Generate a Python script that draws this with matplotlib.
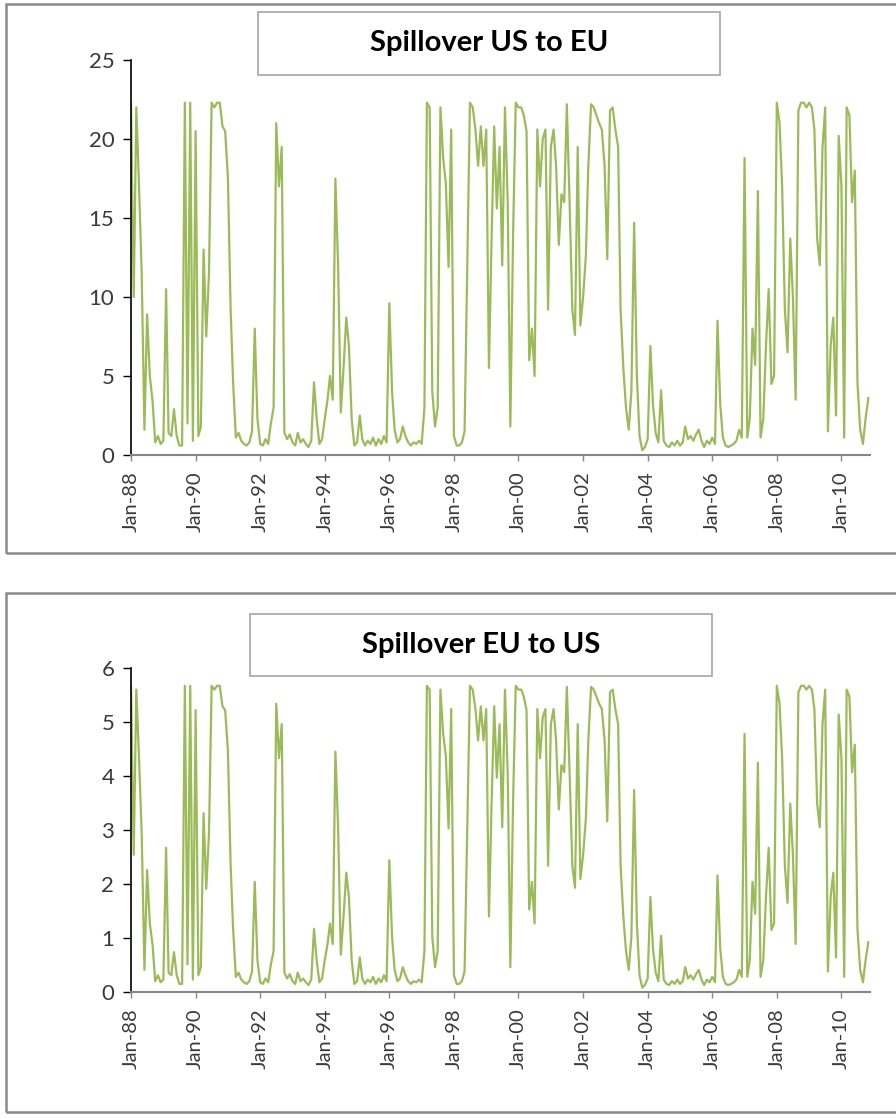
import matplotlib
matplotlib.use("Agg")
import matplotlib.pyplot as plt
import matplotlib.dates as mdates
from matplotlib.patches import Rectangle
import pandas as pd

# ── data: monthly spillover index, Jan-88 .. Nov-10 ───────
us_to_eu = [
    22.3, 10.0, 22.0, 17.0, 11.5, 1.6, 8.9, 5.0, 3.4, 0.8, 1.2, 0.7,      # 1988
    0.9, 10.5, 1.4, 1.2, 2.9, 1.2, 0.6, 0.6, 22.3, 2.0, 22.3, 0.9,        # 1989
    20.5, 1.2, 1.8, 13.0, 7.5, 11.5, 22.3, 22.0, 22.3, 22.3, 20.8, 20.5,  # 1990
    17.6, 9.2, 4.6, 1.1, 1.4, 0.9, 0.7, 0.6, 0.8, 1.5, 8.0, 2.3,          # 1991
    0.7, 0.6, 1.0, 0.7, 2.0, 3.0, 21.0, 17.0, 19.5, 1.4, 1.0, 1.3,        # 1992
    0.8, 0.6, 1.4, 0.8, 1.0, 0.7, 0.5, 0.9, 4.6, 2.3, 0.7, 1.0,           # 1993
    2.3, 3.5, 5.0, 3.5, 17.5, 11.9, 2.7, 5.5, 8.7, 6.9, 2.3, 0.6,         # 1994
    0.8, 2.5, 1.0, 0.6, 0.9, 0.7, 1.1, 0.6, 1.0, 0.7, 1.2, 0.8,           # 1995
    9.6, 4.0, 1.6, 0.8, 1.0, 1.8, 1.2, 0.8, 0.6, 0.8, 0.7, 0.9,           # 1996
    0.7, 3.0, 22.3, 22.0, 4.0, 1.8, 3.0, 22.0, 18.8, 17.2, 11.9, 20.6,    # 1997
    1.2, 0.6, 0.6, 0.8, 1.5, 12.0, 22.3, 22.0, 20.6, 18.3, 20.8, 18.3,    # 1998
    20.6, 5.5, 13.3, 20.8, 15.6, 19.5, 12.0, 22.0, 16.0, 1.8, 14.0, 22.3, # 1999
    22.0, 22.0, 21.5, 20.5, 6.0, 8.0, 5.0, 20.6, 17.0, 20.0, 20.6, 9.2,   # 2000
    19.5, 20.6, 18.3, 13.3, 16.5, 16.0, 22.2, 16.0, 9.2, 7.6, 19.5, 8.2,  # 2001
    10.0, 12.6, 18.3, 22.2, 22.0, 21.5, 21.0, 20.6, 18.3, 12.4, 21.8, 22.0,  # 2002
    20.6, 19.5, 9.2, 5.5, 3.0, 1.6, 4.0, 14.7, 5.0, 1.2, 0.3, 0.5,        # 2003
    1.0, 6.9, 3.2, 1.4, 0.8, 4.1, 0.9, 0.6, 0.5, 0.8, 0.6, 0.9,           # 2004
    0.6, 0.8, 1.8, 1.0, 1.2, 0.9, 1.3, 1.6, 0.9, 0.5, 0.9, 0.7,           # 2005
    1.1, 0.7, 8.5, 3.2, 1.1, 0.6, 0.5, 0.6, 0.7, 0.9, 1.6, 1.1,           # 2006
    18.8, 1.1, 2.3, 8.0, 5.7, 16.7, 1.1, 2.3, 7.0, 10.5, 4.5, 5.0,        # 2007
    22.3, 21.0, 17.0, 9.2, 6.5, 13.7, 10.0, 3.5, 21.8, 22.3, 22.3, 22.0,  # 2008
    22.3, 22.0, 20.6, 13.7, 12.0, 19.5, 22.0, 1.5, 6.9, 8.7, 2.5, 20.2,   # 2009
    17.0, 1.1, 22.0, 21.5, 16.0, 18.0, 4.6, 1.6, 0.7, 2.3, 3.6,           # 2010
]

eu_to_us = [
    5.67, 2.54, 5.60, 4.33, 2.93, 0.41, 2.26, 1.27, 0.87, 0.20, 0.31, 0.18,
    0.23, 2.67, 0.36, 0.31, 0.74, 0.31, 0.15, 0.15, 5.67, 0.51, 5.67, 0.23,
    5.22, 0.31, 0.46, 3.31, 1.91, 2.93, 5.67, 5.60, 5.67, 5.67, 5.29, 5.22,
    4.48, 2.34, 1.17, 0.28, 0.36, 0.23, 0.18, 0.15, 0.20, 0.38, 2.04, 0.59,
    0.18, 0.15, 0.25, 0.18, 0.51, 0.76, 5.34, 4.33, 4.96, 0.36, 0.25, 0.33,
    0.20, 0.15, 0.36, 0.20, 0.25, 0.18, 0.13, 0.23, 1.17, 0.59, 0.18, 0.25,
    0.59, 0.89, 1.27, 0.89, 4.45, 3.03, 0.69, 1.40, 2.21, 1.76, 0.59, 0.15,
    0.20, 0.64, 0.25, 0.15, 0.23, 0.18, 0.28, 0.15, 0.25, 0.18, 0.31, 0.20,
    2.44, 1.02, 0.41, 0.20, 0.25, 0.46, 0.31, 0.20, 0.15, 0.20, 0.18, 0.23,
    0.18, 0.76, 5.67, 5.60, 1.02, 0.46, 0.76, 5.60, 4.78, 4.38, 3.03, 5.24,
    0.31, 0.15, 0.15, 0.20, 0.38, 3.05, 5.67, 5.60, 5.24, 4.66, 5.29, 4.66,
    5.24, 1.40, 3.38, 5.29, 3.97, 4.96, 3.05, 5.60, 4.07, 0.46, 3.56, 5.67,
    5.60, 5.60, 5.47, 5.22, 1.53, 2.04, 1.27, 5.24, 4.33, 5.09, 5.24, 2.34,
    4.96, 5.24, 4.66, 3.38, 4.20, 4.07, 5.65, 4.07, 2.34, 1.93, 4.96, 2.09,
    2.54, 3.21, 4.66, 5.65, 5.60, 5.47, 5.34, 5.24, 4.66, 3.16, 5.55, 5.60,
    5.24, 4.96, 2.34, 1.40, 0.76, 0.41, 1.02, 3.74, 1.27, 0.31, 0.08, 0.13,
    0.25, 1.76, 0.81, 0.36, 0.20, 1.04, 0.23, 0.15, 0.13, 0.20, 0.15, 0.23,
    0.15, 0.20, 0.46, 0.25, 0.31, 0.23, 0.33, 0.41, 0.23, 0.13, 0.23, 0.18,
    0.28, 0.18, 2.16, 0.81, 0.28, 0.15, 0.13, 0.15, 0.18, 0.23, 0.41, 0.28,
    4.78, 0.28, 0.59, 2.04, 1.45, 4.25, 0.28, 0.59, 1.78, 2.67, 1.15, 1.27,
    5.67, 5.34, 4.33, 2.34, 1.65, 3.49, 2.54, 0.89, 5.55, 5.67, 5.67, 5.60,
    5.67, 5.60, 5.24, 3.49, 3.05, 4.96, 5.60, 0.38, 1.76, 2.21, 0.64, 5.14,
    4.33, 0.28, 5.60, 5.47, 4.07, 4.58, 1.17, 0.41, 0.18, 0.59, 0.92,
]

dates = pd.date_range("1988-01-01", periods=len(us_to_eu), freq="MS")

titles = ["Spillover US to EU", "Spillover EU to US"]
y_ticks = [[0, 5, 10, 15, 20, 25], [0, 1, 2, 3, 4, 5, 6]]

# ── style ─────────────────────────────────────────────────
LINE_COLOR  = "#9bbb59"
FRAME_COLOR = "#8a8a8a"
TEXT_COLOR  = "#3a3a3a"
plt.rcParams["font.family"] = ["Lato", "DejaVu Sans"]

W, H = 896, 1119
fig = plt.figure(figsize=(W / 100, H / 100), dpi=100)
fig.patch.set_facecolor("white")

def fx(px):  return px / W
def fy(py):  return 1 - py / H

# panel layout in pixels: frame (top, bottom), title box (x0, x1, y0, y1), axes (top, bottom)
panels = [
    dict(frame=(4, 553),    tbox=(258, 720, 12, 75),   ax=(60, 455)),
    dict(frame=(593, 1112), tbox=(250, 712, 614, 676), ax=(668, 992)),
]
AX_LEFT, AX_RIGHT = 131, 870

for i, (series, p) in enumerate(zip([us_to_eu, eu_to_us], panels)):
    # outer chart frame (runs off the right edge)
    ft, fb = p["frame"]
    fig.add_artist(Rectangle((fx(6), fy(fb)), 1.2, fy(ft) - fy(fb),
                             transform=fig.transFigure, fill=False,
                             edgecolor=FRAME_COLOR, linewidth=1.8, zorder=0.5))

    at, ab = p["ax"]
    ax = fig.add_axes([fx(AX_LEFT), fy(ab), fx(AX_RIGHT) - fx(AX_LEFT), fy(at) - fy(ab)])
    ax.plot(dates, series, color=LINE_COLOR, linewidth=1.6)

    ticks = y_ticks[i]
    ax.set_ylim(ticks[0], ticks[-1])
    ax.set_yticks(ticks)
    ax.set_xlim(dates[0], pd.Timestamp("2010-11-20"))
    ax.xaxis.set_major_locator(mdates.YearLocator(2, month=1, day=1))
    ax.xaxis.set_major_formatter(mdates.DateFormatter("%b-%y"))

    for s in ["top", "right"]:
        ax.spines[s].set_visible(False)
    ax.spines["left"].set_color("black")
    ax.spines["left"].set_linewidth(1.2)
    ax.spines["bottom"].set_color("#868686")
    ax.spines["bottom"].set_linewidth(1.5)

    ax.tick_params(axis="y", length=6, width=1.0, color="black",
                   labelsize=16, labelcolor=TEXT_COLOR, pad=6)
    ax.tick_params(axis="x", length=4, width=1.0, color="#868686",
                   labelsize=14.5, labelcolor=TEXT_COLOR, pad=8, labelrotation=90)
    ax.patch.set_alpha(0)

    # title box
    x0, x1, y0, y1 = p["tbox"]
    fig.add_artist(Rectangle((fx(x0), fy(y1)), fx(x1) - fx(x0), fy(y0) - fy(y1),
                             transform=fig.transFigure, facecolor="white",
                             edgecolor="#a6a6a6", linewidth=1.2, zorder=2))
    fig.text(fx((x0 + x1) / 2), fy((y0 + y1) / 2), titles[i],
             ha="center", va="center", fontsize=21, fontweight="bold",
             color="black", zorder=3)

fig.savefig("out.png", dpi=100)
